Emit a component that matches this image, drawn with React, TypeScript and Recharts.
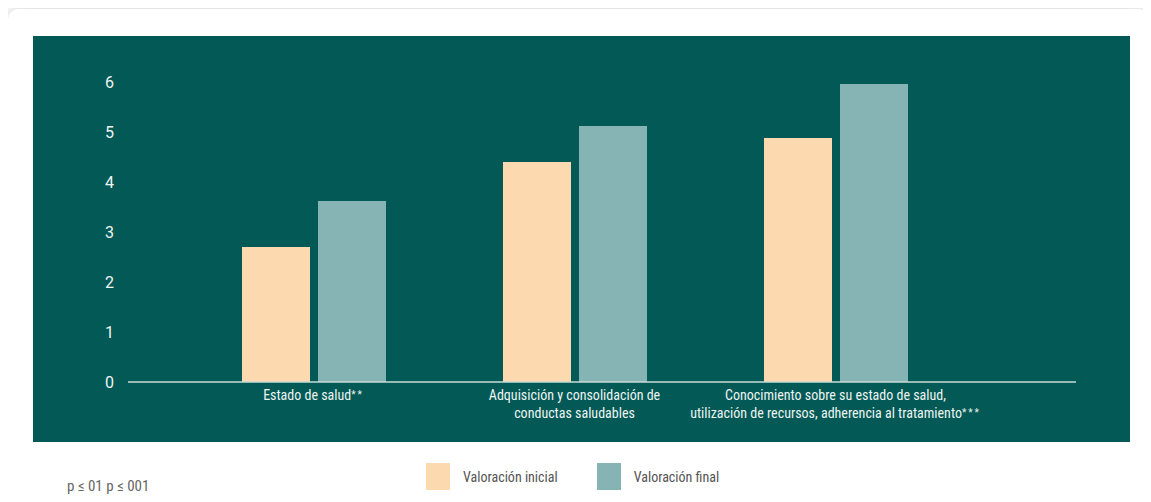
import React from "react";
import { BarChart, Bar, XAxis, YAxis } from "recharts";

const categories: string[][] = [
  ["Estado de salud**"],
  ["Adquisición y consolidación de", "conductas saludables"],
  ["Conocimiento sobre su estado de salud,", "utilización de recursos, adherencia al tratamiento***"],
];
const valoracionInicial = [2.7, 4.4, 4.88];
const valoracionFinal = [3.62, 5.12, 5.96];
const yTicks = [0, 1, 2, 3, 4, 5, 6];
const seriesNames = ["Valoración inicial", "Valoración final"];
const footnote = "p ≤ 01 p ≤ 001";

const COLORS = ["#fcd9ae", "#86b4b4"];
const BG = "#025955";
const NARROW = "'Liberation Sans Narrow', 'Arial Narrow', 'Roboto Condensed', sans-serif";

const data = categories.map((lines, i) => ({
  name: lines.join(" "),
  lines,
  inicial: valoracionInicial[i],
  final: valoracionFinal[i],
}));

const CategoryTick = (props: any) => {
  const { x, y, index } = props;
  const lines: string[] = data[index]?.lines ?? [];
  return (
    <g transform={`translate(${x},${y})`}>
      {lines.map((line, i) => {
        const m = line.match(/^(.*?)(\*+)$/);
        return (
          <text key={i} x={0} y={10 + i * 18} textAnchor="middle" fill="#eef4f2" fontSize={14} fontFamily={NARROW}>
            {m ? (
              <>
                {m[1]}
                <tspan fontSize={10} dy={-2} letterSpacing={2}>{m[2]}</tspan>
              </>
            ) : (
              line
            )}
          </text>
        );
      })}
    </g>
  );
};

const LegendContent = () => (
  <div style={{ display: "flex", alignItems: "center", fontFamily: NARROW, fontSize: 14, color: "#555" }}>
    {seriesNames.map((n, i) => (
      <div key={n} style={{ display: "flex", alignItems: "center", marginRight: i === 0 ? 39 : 0 }}>
        <div style={{ width: 24, height: 27, background: COLORS[i], marginRight: 13 }} />
        <span>{n}</span>
      </div>
    ))}
  </div>
);

export default function App() {
  return (
    <div
      style={{
        position: "relative",
        width: 1140,
        height: 520,
        marginTop: 1,
        background: "#fff",
        borderRadius: 10,
        boxShadow: "0 0 16px rgba(0,0,0,0.22)",
        overflow: "hidden",
      }}
    >
      <div style={{ position: "absolute", left: 25, top: 27, width: 1097, height: 406, background: BG }} />
      <div style={{ position: "absolute", left: 0, top: 0 }}>
        <BarChart
          width={1140}
          height={493}
          data={data}
          margin={{ top: 73, right: 72, bottom: 70, left: 60 }}
          barSize={68}
          barGap={8}
        >
          <XAxis
            dataKey="name"
            height={50}
            padding={{ left: 55, right: 110 }}
            tickLine={false}
            axisLine={{ stroke: "#c9dcd9", strokeWidth: 1.5 }}
            tick={<CategoryTick />}
            interval={0}
          />
          <YAxis
            width={60}
            domain={[0, 6]}
            ticks={yTicks}
            axisLine={false}
            tickLine={false}
            tickMargin={8}
            tick={{ fill: "#eef4f2", fontSize: 16, fontFamily: "Roboto, sans-serif" }}
          />
          <Bar dataKey="inicial" name={seriesNames[0]} fill={COLORS[0]} isAnimationActive={false} />
          <Bar dataKey="final" name={seriesNames[1]} fill={COLORS[1]} isAnimationActive={false} />
        </BarChart>
      </div>
      <div style={{ position: "absolute", left: 418, top: 454 }}>
        <LegendContent />
      </div>
      <div style={{ position: "absolute", left: 59, top: 468, fontFamily: NARROW, fontSize: 15, color: "#666" }}>
        {footnote}
      </div>
    </div>
  );
}
